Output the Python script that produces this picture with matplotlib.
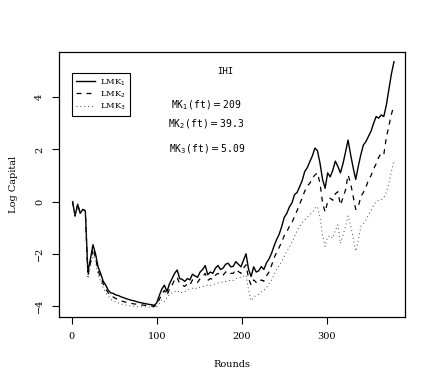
import numpy as np
import matplotlib
matplotlib.use("Agg")
import matplotlib.pyplot as plt

# rounds sampled every 3 steps
rounds = np.arange(1, 380, 3)

lmk1 = [0.0, -0.55, -0.1, -0.45, -0.3, -0.35, -2.7, -2.2, -1.65, -2.0,
        -2.5, -2.75, -3.05, -3.2, -3.4, -3.5, -3.52, -3.58, -3.6, -3.65,
        -3.68, -3.72, -3.75, -3.78, -3.8, -3.83, -3.86, -3.88, -3.9, -3.92,
        -3.94, -3.95, -3.98, -3.88, -3.6, -3.35, -3.2, -3.45, -3.15, -2.95,
        -2.75, -2.62, -2.95, -2.98, -3.06, -2.95, -3.0, -2.78, -2.85, -2.9,
        -2.7, -2.6, -2.45, -2.8, -2.7, -2.75, -2.55, -2.45, -2.6, -2.55,
        -2.4, -2.36, -2.5, -2.48, -2.3, -2.4, -2.5, -2.25, -2.0, -2.6,
        -2.87, -2.5, -2.7, -2.65, -2.49, -2.6, -2.35, -2.2, -1.98, -1.7,
        -1.45, -1.25, -0.95, -0.6, -0.45, -0.2, -0.05, 0.26, 0.35, 0.57,
        0.8, 1.15, 1.3, 1.53, 1.75, 2.05, 1.95, 1.47, 0.85, 0.51,
        1.1, 0.95, 1.2, 1.55, 1.35, 1.1, 1.45, 1.9, 2.36, 1.8,
        1.3, 0.85, 1.35, 1.8, 2.17, 2.3, 2.5, 2.7, 3.0, 3.26,
        3.2, 3.32, 3.26, 3.7, 4.3, 4.9, 5.36]

lmk2 = [0.0, -0.55, -0.1, -0.45, -0.3, -0.35, -2.85, -2.35, -1.8, -2.15,
        -2.65, -2.9, -3.15, -3.35, -3.5, -3.62, -3.66, -3.72, -3.75, -3.8,
        -3.83, -3.86, -3.88, -3.9, -3.92, -3.93, -3.95, -3.96, -3.97, -3.98,
        -3.99, -4.0, -4.02, -3.95, -3.75, -3.55, -3.4, -3.6, -3.35, -3.2,
        -3.0, -2.9, -3.15, -3.2, -3.25, -3.15, -3.2, -3.0, -3.08, -3.1,
        -2.95, -2.88, -2.75, -3.02, -2.95, -2.98, -2.82, -2.75, -2.85, -2.82,
        -2.7, -2.66, -2.75, -2.75, -2.6, -2.68, -2.75, -2.55, -2.42, -2.95,
        -3.2, -3.0, -3.1, -3.12, -3.0, -3.05, -2.85, -2.7, -2.45, -2.15,
        -1.95, -1.75, -1.55, -1.3, -1.15, -0.95, -0.8, -0.57, -0.35, -0.1,
        0.13, 0.4, 0.6, 0.7, 0.9, 1.02, 1.1, 0.7, -0.05, -0.4,
        0.0, 0.13, 0.05, 0.3, 0.38, -0.13, 0.15, 0.45, 1.02, 0.7,
        0.2, -0.3, -0.2, 0.2, 0.35, 0.55, 0.83, 1.0, 1.25, 1.45,
        1.7, 1.85, 1.8, 2.45, 2.9, 3.35, 3.7]

lmk3 = [0.0, -0.55, -0.1, -0.45, -0.3, -0.35, -2.95, -2.5, -2.0, -2.3,
        -2.8, -3.05, -3.3, -3.5, -3.62, -3.75, -3.8, -3.85, -3.88, -3.92,
        -3.95, -3.97, -3.99, -4.0, -4.01, -4.02, -4.03, -4.03, -4.03, -4.04,
        -4.04, -4.05, -4.05, -4.02, -3.9, -3.75, -3.83, -3.7, -3.55, -3.5,
        -3.45, -3.4, -3.5, -3.48, -3.45, -3.4, -3.35, -3.32, -3.36, -3.3,
        -3.28, -3.25, -3.22, -3.2, -3.22, -3.18, -3.15, -3.12, -3.1, -3.08,
        -3.06, -3.05, -3.0, -3.02, -2.95, -2.92, -2.9, -2.86, -2.81, -3.4,
        -3.8, -3.65, -3.6, -3.55, -3.45, -3.4, -3.3, -3.15, -3.0, -2.8,
        -2.6, -2.45, -2.3, -2.1, -1.9, -1.75, -1.55, -1.35, -1.12, -0.95,
        -0.8, -0.7, -0.6, -0.5, -0.42, -0.25, -0.19, -0.6, -1.3, -1.72,
        -1.35, -1.3, -1.4, -1.1, -0.89, -1.6, -1.3, -0.95, -0.55, -0.9,
        -1.4, -1.9, -1.5, -0.95, -0.85, -0.7, -0.51, -0.35, -0.15, 0.0,
        0.05, 0.07, 0.15, 0.35, 0.7, 1.15, 1.53]

labels = ["LMK$_1$", "LMK$_2$", "LMK$_3$"]
mk_text = ["MK$_1$(ft)$=$209", "MK$_2$(ft)$=$39.3", "MK$_3$(ft)$=$5.09"]

fig = plt.figure(figsize=(4.36, 3.82), dpi=100)
ax = fig.add_axes([0.136, 0.171, 0.793, 0.694])

ax.plot(rounds, lmk1, color="black", lw=1.0, ls="-", label=labels[0])
ax.plot(rounds, lmk2, color="black", lw=0.9, ls=(0, (4, 4)), label=labels[1])
ax.plot(rounds, lmk3, color="#444444", lw=0.7, ls=(0, (1, 3)), label=labels[2])

ax.set_xlim(-14.6, 392)
ax.set_ylim(-4.41, 5.75)
ax.set_xticks([0, 100, 200, 300])
ax.set_yticks([-4, -2, 0, 2, 4])

for lab in ax.get_xticklabels():
    lab.set_fontfamily("DejaVu Serif")
    lab.set_fontsize(7)
for lab in ax.get_yticklabels():
    lab.set_fontfamily("DejaVu Serif")
    lab.set_fontsize(7)
    lab.set_rotation(90)
    lab.set_va("center")

ax.tick_params(direction="out", length=5, width=0.8, pad=6)
for sp in ax.spines.values():
    sp.set_linewidth(0.9)

ax.set_xlabel("Rounds", fontsize=7, family="DejaVu Serif", labelpad=14)
ax.set_ylabel("Log Capital", fontsize=7, family="DejaVu Serif", labelpad=12)

ax.text(181, 4.97, "IHI", fontsize=6.5, family="DejaVu Sans Mono",
        ha="center", va="center")
ax.text(158, 3.7, mk_text[0], fontsize=7, family="DejaVu Sans Mono",
        ha="center", va="center")
ax.text(158, 2.98, mk_text[1], fontsize=7, family="DejaVu Sans Mono",
        ha="center", va="center")
ax.text(160, 2.02, mk_text[2], fontsize=7, family="DejaVu Sans Mono",
        ha="center", va="center")

leg = ax.legend(loc="upper left", bbox_to_anchor=(0.025, 0.935),
                fancybox=False, edgecolor="black", framealpha=1,
                prop={"family": "DejaVu Serif", "size": 6},
                handlelength=2.2, borderpad=0.5, labelspacing=0.2,
                handletextpad=0.6)
leg.get_frame().set_linewidth(0.8)

fig.savefig("out.png", dpi=100)
